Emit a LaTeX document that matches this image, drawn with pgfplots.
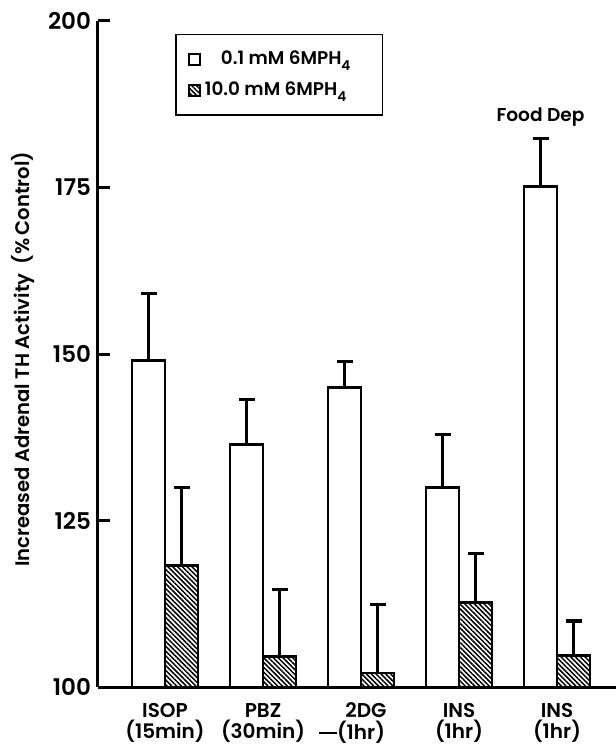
\documentclass[border=0pt]{standalone}
\usepackage{fontspec}
\setmainfont{Poppins}[UprightFont={* SemiBold}]
\usepackage{pgfplots}
\pgfplotsset{compat=1.18}
\usetikzlibrary{patterns.meta}

\newcommand{\sub}[1]{\raisebox{-0.55ex}{\fontsize{6.8}{7}\selectfont #1}}

\begin{document}
\begin{tikzpicture}
\begin{axis}[
  scale only axis, width=259pt, height=333pt,
  xmin=-0.684, xmax=4.602, ymin=100, ymax=200,
  axis x line=bottom, axis y line=left,
  axis line style={-, line width=1.5pt},
  ytick={100,125,150,175,200},
  tick align=inside, major tick length=6pt,
  ytick style={line width=1.5pt, black},
  xtick={0,1,2,3,4}, xtick style={draw=none},
  xticklabels={{ISOP\\(15min)},{PBZ\\(30min)},{\hspace*{5pt}2DG\\\llap{\rule[0.3em]{9pt}{0.7pt}}(1hr)},{INS\\(1hr)},{INS\\(1hr)}},
  xticklabel style={align=center, font=\fontsize{10}{10.8}\selectfont, yshift=1.5pt},
  yticklabel style={font=\fontsize{11.5}{12}\selectfont},
  /pgf/number format/assume math mode=true,
  ylabel={Increased Adrenal TH Activity\ \ (\%\,Control)},
  every axis y label/.style={at={(axis description cs:-0.1448,0.492)}, rotate=90, anchor=center, font=\fontsize{9.8}{10}\selectfont},
  ybar=0pt, bar width=16.5pt,
  legend cell align=left,
  legend image code/.code={\draw[#1, line width=1pt] (0pt,-2.75pt) rectangle (5.5pt,2.75pt);},
  legend style={at={(axis description cs:0.1486,0.981)}, anchor=north west,
    draw=black, line width=0.9pt, font=\fontsize{9.2}{10}\selectfont,
    inner xsep=6pt, inner ysep=6.3pt, row sep=3pt},
]
\addplot[fill=white, draw=black, line width=1.4pt,
  error bars/.cd, y dir=plus, y explicit,
  error bar style={line width=1.4pt, black},
  error mark options={line width=1.6pt, mark size=4pt, black, rotate=90}]
  coordinates {(0,149.0) +- (0,10.1) (1,136.4) +- (0,6.8) (2,145.0) +- (0,3.9) (3,130.0) +- (0,7.9) (4,175.1) +- (0,7.2)};
\addlegendentry{\hspace*{8pt}0.1 mM 6MPH\sub{4}\rule{8pt}{0pt}}
\addplot[pattern={Lines[angle=-45,distance=1.7pt,line width=0.75pt]}, draw=black, line width=1.4pt,
  error bars/.cd, y dir=plus, y explicit,
  error bar style={line width=1.4pt, black},
  error mark options={line width=1.6pt, mark size=4pt, black, rotate=90}]
  coordinates {(0,118.3) +- (0,11.6) (1,104.6) +- (0,10.1) (2,102.1) +- (0,10.3) (3,112.7) +- (0,7.3) (4,104.7) +- (0,5.2)};
\addlegendentry{10.0 mM 6MPH\sub{4}\rule{8pt}{0pt}}
\node[font=\fontsize{9.3}{10}\selectfont] at (axis cs:3.832,185.6) {Food Dep};
\end{axis}
\pgfresetboundingbox
\path[use as bounding box] (-49pt,-29pt) rectangle (259pt,343.5pt);
\end{tikzpicture}
\end{document}
